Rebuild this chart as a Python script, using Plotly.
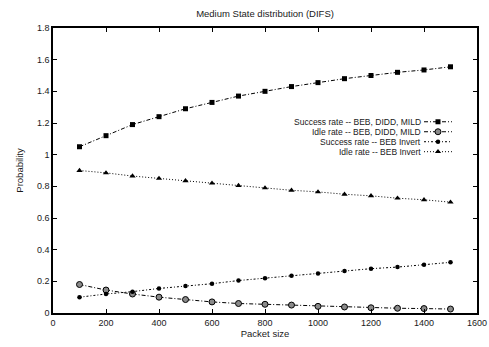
import plotly.graph_objects as go

packet_size = [100, 200, 300, 400, 500, 600, 700, 800, 900, 1000, 1100, 1200, 1300, 1400, 1500]
success_mild = [1.05, 1.12, 1.19, 1.24, 1.29, 1.33, 1.37, 1.40, 1.43, 1.455, 1.48, 1.50, 1.52, 1.535, 1.555]
idle_mild = [0.18, 0.145, 0.12, 0.10, 0.085, 0.07, 0.06, 0.055, 0.05, 0.042, 0.038, 0.033, 0.03, 0.028, 0.025]
success_invert = [0.10, 0.12, 0.135, 0.155, 0.17, 0.185, 0.205, 0.22, 0.235, 0.25, 0.265, 0.28, 0.29, 0.305, 0.32]
idle_invert = [0.90, 0.885, 0.865, 0.85, 0.835, 0.82, 0.805, 0.79, 0.775, 0.765, 0.75, 0.74, 0.725, 0.715, 0.70]

series_names = ["Success rate -- BEB, DIDD, MILD", "Idle rate -- BEB, DIDD, MILD",
                "Success rate -- BEB Invert", "Idle rate -- BEB Invert"]

x_ticks = [0, 200, 400, 600, 800, 1000, 1200, 1400, 1600]
y_ticks = [0, 0.2, 0.4, 0.6, 0.8, 1, 1.2, 1.4, 1.6, 1.8]
y_tick_labels = ["0", "0.2", "0.4", "0.6", "0.8", "1", "1.2", "1.4", "1.6", "1.8"]

FONT = "Liberation Sans, Arial, sans-serif"
TXT = "#1a1a1a"

styles = [
    dict(line=dict(color="black", width=1, dash="4px,2px,1px,2px"),
         marker=dict(symbol="square", size=5, color="black")),
    dict(line=dict(color="black", width=1, dash="4px,2px,1px,2px"),
         marker=dict(symbol="circle", size=6, color="#8a8a8a", line=dict(color="black", width=1))),
    dict(line=dict(color="black", width=1, dash="2px,2px,1px,2px"),
         marker=dict(symbol="circle", size=4.5, color="black")),
    dict(line=dict(color="black", width=1, dash="1px,2px"),
         marker=dict(symbol="triangle-up", size=5.5, color="black")),
]
series = [success_mild, idle_mild, success_invert, idle_invert]

fig = go.Figure()
for name, vals, st in zip(series_names, series, styles):
    fig.add_trace(go.Scatter(x=packet_size, y=vals, name=name, mode="lines+markers",
                             showlegend=False, **st))

# custom key (gnuplot style: right-aligned text, sample on the right)
key_text_x = 0.870
key_x0, key_x1 = 0.875, 0.941
key_rows = [0.671, 0.636, 0.601, 0.566]
for name, yk, st in zip(series_names, key_rows, styles):
    fig.add_trace(go.Scatter(x=[key_x0, key_x1], y=[yk, yk], mode="lines", line=st["line"],
                             xaxis="x2", yaxis="y2", showlegend=False, hoverinfo="skip"))
    fig.add_trace(go.Scatter(x=[(key_x0 + key_x1) / 2], y=[yk], mode="markers",
                             marker=st["marker"], xaxis="x2", yaxis="y2",
                             showlegend=False, hoverinfo="skip"))
    fig.add_annotation(x=key_text_x, y=yk, xref="paper", yref="paper", text=name,
                       showarrow=False, xanchor="right", yanchor="middle", borderpad=0,
                       font=dict(size=8.5, family=FONT, color=TXT))

fig.update_layout(
    width=489, height=347,
    margin=dict(l=53, r=12, t=28, b=34),
    paper_bgcolor="white", plot_bgcolor="white",
    font=dict(family=FONT, size=9, color=TXT),
    title=dict(text="Medium State distribution (DIFS)", x=0.542, xanchor="center",
               y=0.962, yanchor="middle", font=dict(size=9.5, family=FONT, color=TXT)),
    showlegend=False,
    xaxis=dict(
        range=[0, 1600], tickvals=x_ticks, ticks="inside", ticklen=4, tickcolor="black",
        showline=True, linecolor="black", linewidth=1.5, mirror="ticks", showgrid=False,
        zeroline=False, automargin=False,
        title=dict(text="Packet size", standoff=4, font=dict(size=9.5)),
        tickfont=dict(size=9)),
    yaxis=dict(
        range=[0, 1.8], tickvals=y_ticks, ticktext=y_tick_labels, ticks="inside", ticklen=4,
        tickcolor="black", showline=True, linecolor="black", linewidth=1.5, mirror="ticks",
        showgrid=False, zeroline=False, automargin=False,
        title=dict(text="Probability", standoff=12, font=dict(size=9.5)),
        tickfont=dict(size=9)),
    xaxis2=dict(overlaying="x", range=[0, 1], visible=False),
    yaxis2=dict(overlaying="y", range=[0, 1], visible=False),
)

fig.write_html("out.html")
